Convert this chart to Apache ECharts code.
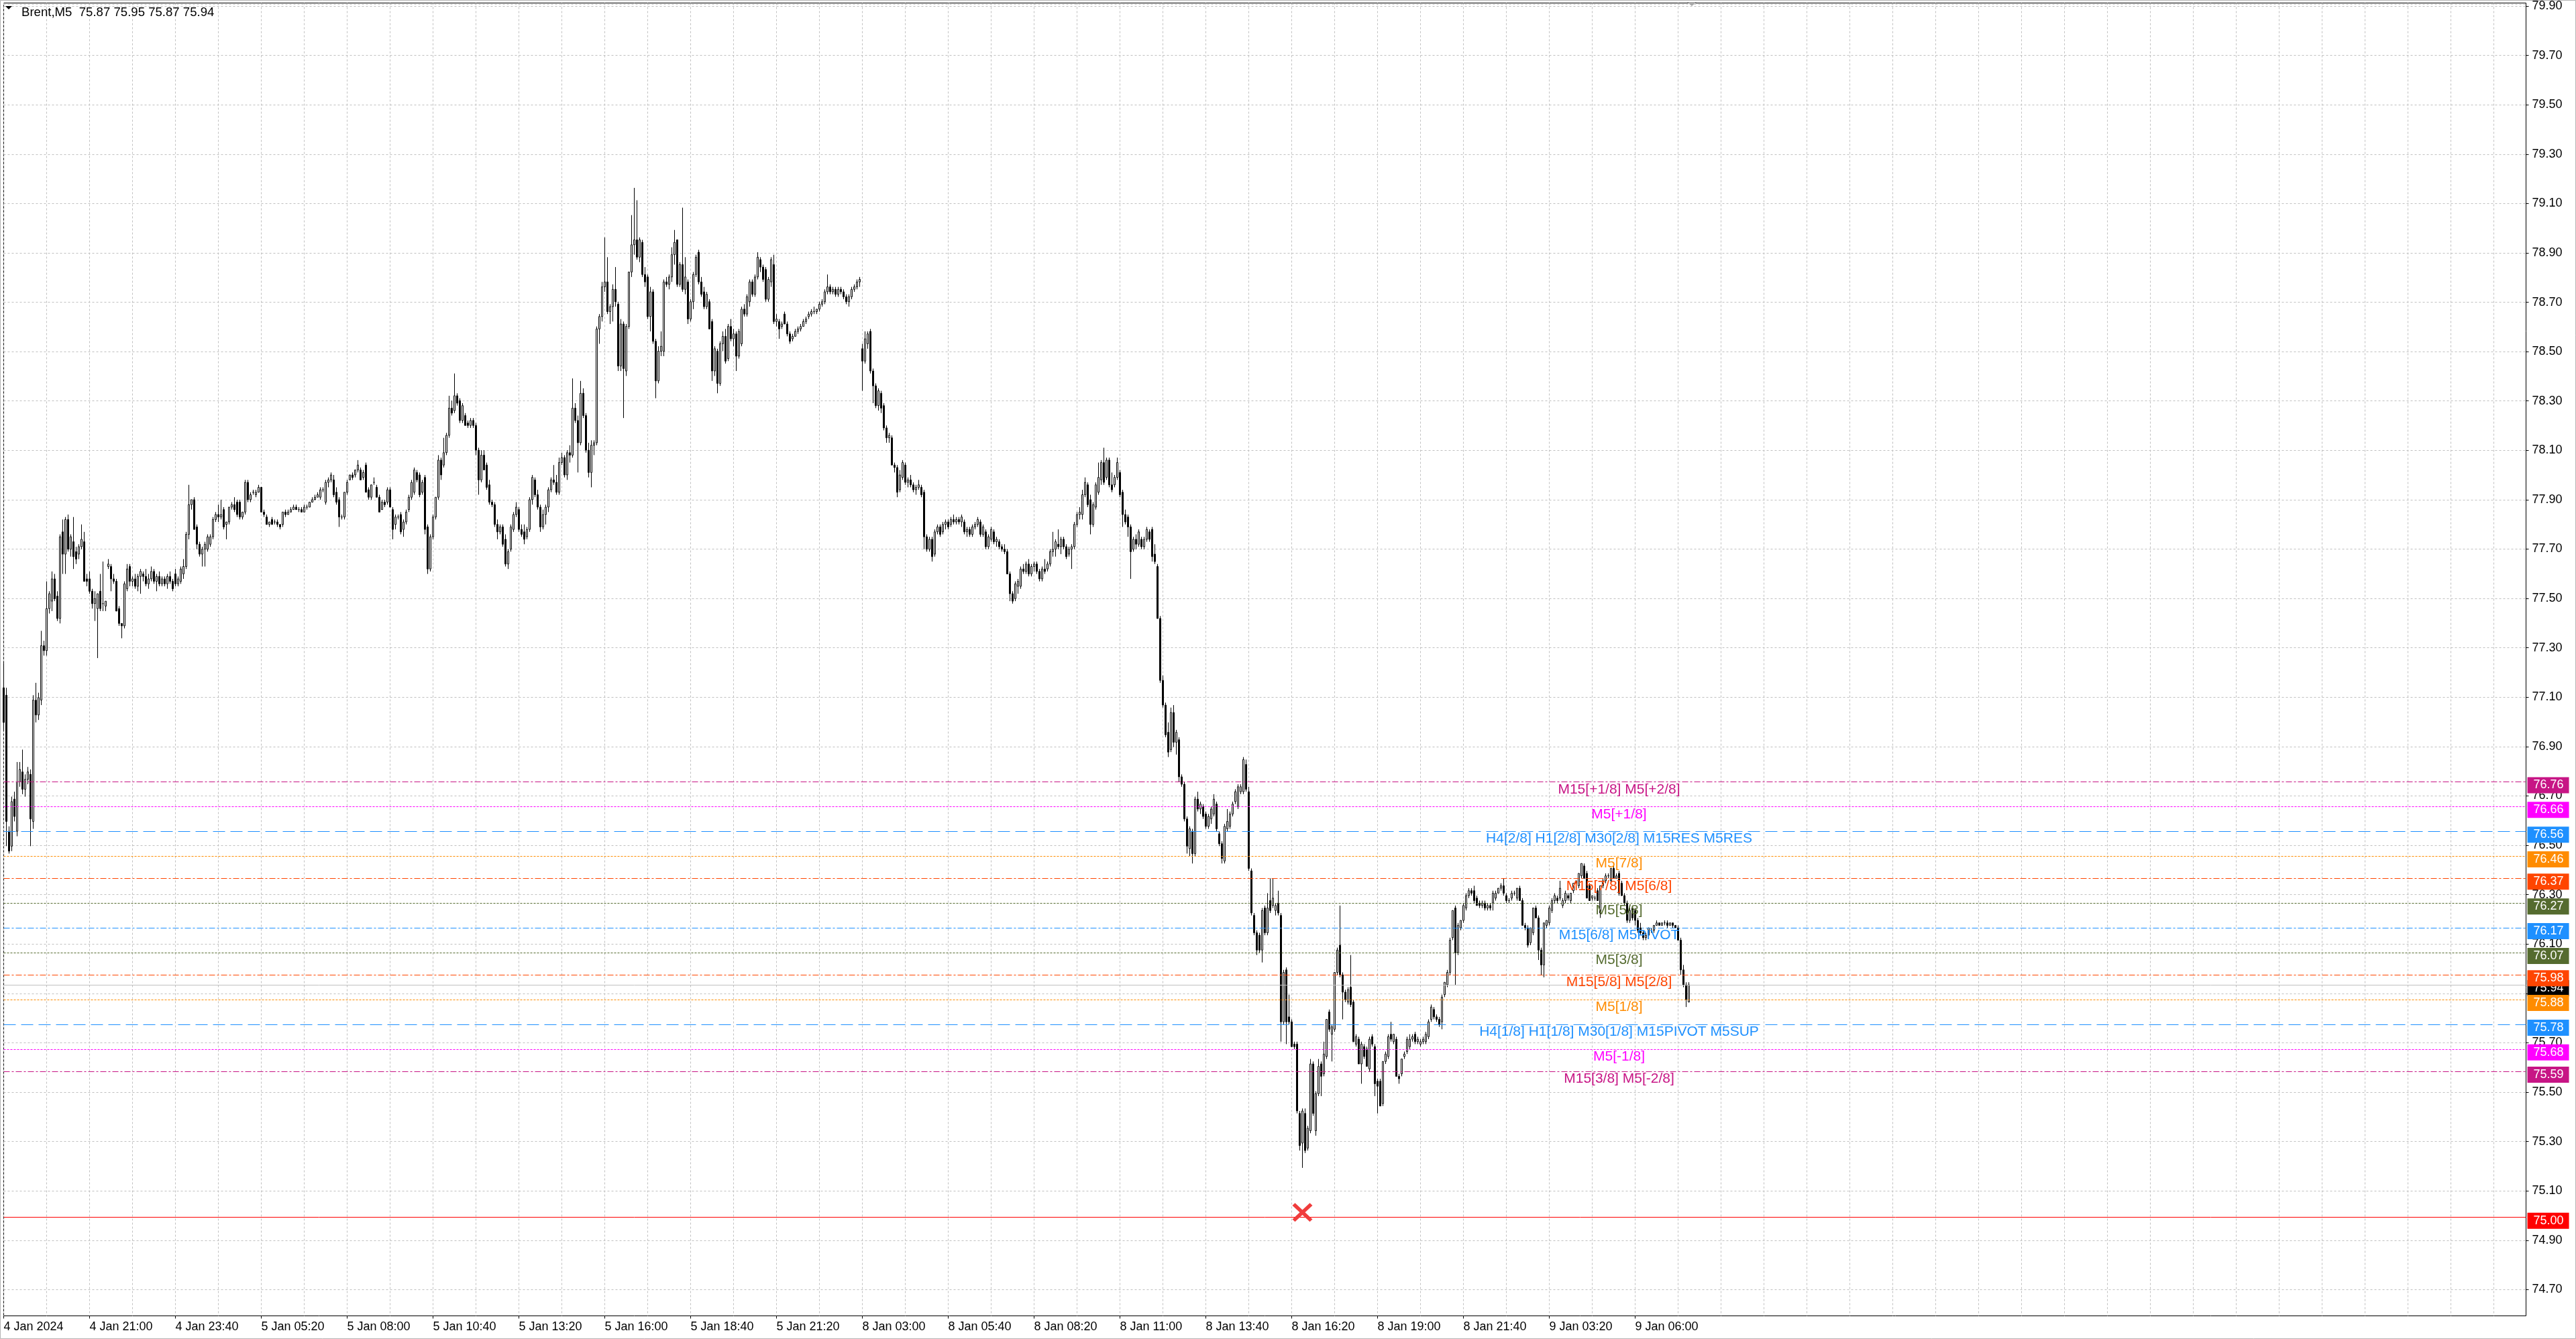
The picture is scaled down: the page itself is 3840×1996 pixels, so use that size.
<!DOCTYPE html>
<html><head><meta charset="utf-8">
<script src="https://cdn.jsdelivr.net/npm/echarts@6/dist/echarts.min.js"></script>
<style>html,body{margin:0;padding:0;background:#fff}#c{width:3840px;height:1996px}</style>
</head><body><div id="c"></div>
<script>
const symbolName = 'Brent,M5';
const timeLabels = ['4 Jan 2024','4 Jan 21:00','4 Jan 23:40','5 Jan 05:20','5 Jan 08:00','5 Jan 10:40','5 Jan 13:20','5 Jan 16:00','5 Jan 18:40','5 Jan 21:20','8 Jan 03:00','8 Jan 05:40','8 Jan 08:20','8 Jan 11:00','8 Jan 13:40','8 Jan 16:20','8 Jan 19:00','8 Jan 21:40','9 Jan 03:20','9 Jan 06:00'];
const labelStep = 32;
const gridStep = 16;
const totalSlots = 941;

// [open, high, low, close] per M5 bar
const week1Bars = [
[77.14,77.24,76.97,77.00],[77.11,77.14,76.50,76.60],[76.56,76.58,76.47,76.48],[76.50,76.70,76.48,76.68],[76.69,76.72,76.60,76.62],[76.56,76.84,76.54,76.76],[76.76,76.84,76.74,76.81],[76.80,76.89,76.71,76.73],
[76.73,76.79,76.70,76.77],[76.77,76.82,76.75,76.80],[76.79,76.81,76.50,76.61],[76.60,77.11,76.57,77.09],[77.09,77.16,77.00,77.03],[77.03,77.12,77.01,77.10],[77.09,77.37,77.07,77.31],[77.31,77.33,77.27,77.29],
[77.29,77.57,77.27,77.46],[77.46,77.53,77.44,77.52],[77.49,77.61,77.45,77.58],[77.58,77.60,77.49,77.50],[77.51,77.53,77.41,77.42],[77.42,77.76,77.40,77.75],[77.77,77.82,77.60,77.68],[77.68,77.83,77.60,77.82],
[77.82,77.84,77.69,77.70],[77.70,77.76,77.67,77.75],[77.73,77.83,77.62,77.67],[77.69,77.71,77.64,77.66],[77.68,77.72,77.66,77.71],[77.71,77.80,77.70,77.74],[77.73,77.77,77.57,77.57],[77.58,77.60,77.55,77.57],
[77.58,77.61,77.52,77.53],[77.53,77.54,77.46,77.48],[77.48,77.53,77.41,77.50],[77.46,77.52,77.26,77.52],[77.53,77.60,77.45,77.46],[77.48,77.65,77.45,77.48],[77.47,77.49,77.45,77.49],[77.63,77.66,77.62,77.64],
[77.63,77.64,77.53,77.58],[77.58,77.60,77.56,77.57],[77.57,77.58,77.45,77.45],[77.46,77.47,77.39,77.40],[77.40,77.40,77.34,77.39],[77.39,77.57,77.38,77.56],[77.54,77.64,77.53,77.62],[77.63,77.64,77.55,77.57],
[77.57,77.59,77.55,77.58],[77.58,77.60,77.54,77.55],[77.55,77.60,77.53,77.59],[77.59,77.62,77.52,77.61],[77.60,77.61,77.57,77.59],[77.59,77.62,77.55,77.56],[77.56,77.60,77.54,77.58],[77.58,77.63,77.57,77.61],
[77.61,77.62,77.56,77.57],[77.57,77.60,77.53,77.59],[77.59,77.61,77.55,77.56],[77.56,77.59,77.55,77.58],[77.58,77.59,77.55,77.56],[77.56,77.60,77.54,77.59],[77.59,77.61,77.56,77.57],[77.57,77.58,77.53,77.54],
[77.60,77.62,77.55,77.56],[77.56,77.59,77.55,77.58],[77.57,77.63,77.56,77.62],[77.60,77.66,77.58,77.63],[77.63,77.77,77.62,77.76],[77.76,77.96,77.74,77.88],[77.88,77.90,77.86,77.90],[77.90,77.91,77.78,77.78],
[77.79,77.80,77.70,77.72],[77.72,77.73,77.67,77.68],[77.68,77.71,77.63,77.70],[77.70,77.73,77.63,77.72],[77.70,77.76,77.69,77.75],[77.72,77.76,77.71,77.75],[77.75,77.83,77.74,77.82],[77.82,77.85,77.81,77.84],
[77.84,77.88,77.81,77.83],[77.83,77.90,77.82,77.84],[77.86,77.87,77.78,77.79],[77.80,77.81,77.74,77.81],[77.81,77.87,77.80,77.87],[77.87,77.89,77.86,77.88],[77.88,77.91,77.85,77.86],[77.89,77.90,77.83,77.84],
[77.89,77.90,77.82,77.83],[77.83,77.85,77.82,77.85],[77.85,77.98,77.84,77.97],[77.97,77.98,77.89,77.90],[77.90,77.93,77.89,77.92],[77.93,77.94,77.92,77.93],[77.92,77.94,77.91,77.93],[77.93,77.96,77.93,77.95],
[77.95,77.95,77.85,77.85],[77.85,77.86,77.83,77.84],[77.83,77.84,77.80,77.80],[77.80,77.81,77.79,77.81],[77.82,77.83,77.80,77.80],[77.81,77.82,77.80,77.81],[77.81,77.82,77.79,77.80],[77.80,77.80,77.78,77.79],
[77.80,77.85,77.79,77.85],[77.85,77.86,77.83,77.84],[77.84,77.86,77.84,77.85],[77.85,77.87,77.85,77.86],[77.86,77.88,77.86,77.87],[77.87,77.88,77.86,77.86],[77.86,77.87,77.85,77.86],[77.86,77.87,77.85,77.85],
[77.85,77.88,77.85,77.87],[77.87,77.88,77.86,77.87],[77.87,77.89,77.87,77.89],[77.89,77.91,77.89,77.90],[77.90,77.92,77.90,77.91],[77.91,77.93,77.91,77.92],[77.91,77.95,77.90,77.94],[77.94,77.95,77.93,77.94],
[77.89,77.98,77.88,77.97],[77.97,77.99,77.95,77.98],[77.98,78.01,77.97,78.00],[77.98,78.00,77.91,77.92],[77.93,77.95,77.88,77.89],[77.90,77.91,77.79,77.83],[77.83,77.84,77.82,77.83],[77.83,77.93,77.82,77.93],
[77.93,77.98,77.92,77.97],[77.98,78.00,77.98,78.00],[78.00,78.01,77.98,77.99],[78.00,78.02,77.99,78.02],[78.02,78.06,78.01,78.04],[78.02,78.03,77.98,77.98],[77.99,78.02,77.98,78.01],[78.04,78.05,77.93,77.93],
[77.94,77.95,77.90,77.91],[77.91,77.96,77.90,77.96],[77.97,77.99,77.96,77.97],[77.95,77.96,77.91,77.91],[77.91,77.92,77.85,77.85],[77.86,77.90,77.86,77.89],[77.89,77.90,77.87,77.88],[77.89,77.95,77.88,77.94],
[77.94,77.95,77.87,77.87],[77.86,77.87,77.74,77.78],[77.80,77.84,77.78,77.83],[77.83,77.84,77.82,77.83],[77.84,77.85,77.76,77.77],[77.78,77.82,77.75,77.81],[77.81,77.86,77.80,77.85],[77.86,77.92,77.85,77.91],
[77.91,77.98,77.90,77.97],[77.93,78.03,77.92,78.02],[78.01,78.02,77.97,77.98],[78.00,78.01,77.91,77.92],[77.93,77.98,77.92,77.97],[77.99,78.00,77.76,77.78],[77.79,77.80,77.60,77.62],[77.62,77.76,77.61,77.75],
[77.75,77.84,77.74,77.83],[77.83,77.91,77.82,77.91],[77.91,78.08,77.90,78.06],[78.06,78.07,77.98,78.00],[78.04,78.15,78.03,78.09],[78.09,78.17,78.08,78.16],[78.16,78.32,78.15,78.27],[78.27,78.30,78.24,78.25],
[78.26,78.41,78.25,78.32],[78.32,78.33,78.28,78.29],[78.30,78.31,78.21,78.22],[78.22,78.29,78.21,78.28],[78.24,78.25,78.20,78.20],[78.21,78.22,78.19,78.20],[78.20,78.23,78.19,78.22],[78.22,78.23,78.19,78.20],
[78.20,78.21,78.08,78.10],[78.10,78.11,77.92,77.98],[77.98,78.10,77.97,78.08],[78.08,78.10,78.02,78.02],[78.04,78.05,77.94,77.95],[77.96,77.98,77.88,77.89],[77.89,77.90,77.87,77.88],[77.88,77.89,77.79,77.80],
[77.80,77.82,77.74,77.77],[77.77,77.80,77.76,77.79],[77.79,77.80,77.71,77.72],[77.74,77.76,77.63,77.64],[77.64,77.70,77.62,77.69],[77.70,77.80,77.69,77.79],[77.78,77.85,77.77,77.84],[77.84,77.89,77.83,77.87],
[77.86,77.87,77.77,77.78],[77.78,77.80,77.75,77.76],[77.77,77.80,77.72,77.74],[77.75,77.79,77.74,77.78],[77.78,77.91,77.77,77.90],[77.90,78.00,77.88,77.99],[77.98,77.99,77.91,77.92],[77.92,77.94,77.86,77.87],
[77.87,77.88,77.77,77.79],[77.79,77.86,77.78,77.84],[77.84,77.88,77.80,77.87],[77.87,77.95,77.85,77.94],[77.94,77.99,77.93,77.98],[77.98,78.04,77.96,77.97],[77.97,78.00,77.92,77.93],[77.93,78.07,77.92,78.05],
[78.05,78.09,78.04,78.07],[78.07,78.08,77.99,78.00],[78.00,78.10,77.98,78.09],[78.09,78.12,78.05,78.08],[78.08,78.39,78.07,78.27],[78.27,78.29,78.21,78.22],[78.22,78.24,78.01,78.13],[78.13,78.38,78.12,78.33],
[78.33,78.35,78.23,78.24],[78.24,78.25,78.09,78.10],[78.10,78.13,77.99,78.01],[78.01,78.14,77.95,78.12],[78.12,78.14,78.08,78.13],[78.13,78.60,78.12,78.59],[78.59,78.65,78.53,78.64],[78.64,78.78,78.62,78.76],
[78.76,78.96,78.74,78.78],[78.78,78.88,78.65,78.66],[78.66,78.69,78.61,78.68],[78.68,78.77,78.62,78.75],[78.75,78.84,78.68,78.70],[78.69,78.70,78.42,78.44],[78.44,78.63,78.42,78.61],[78.61,78.62,78.23,78.43],
[78.42,78.61,78.40,78.60],[78.60,78.82,78.59,78.82],[78.82,79.05,78.80,78.93],[78.93,79.16,78.89,78.95],[78.95,79.11,78.87,78.88],[78.88,78.96,78.86,78.95],[78.94,78.95,78.80,78.81],[78.81,78.84,78.76,78.78],
[78.80,78.81,78.63,78.64],[78.64,78.76,78.58,78.74],[78.74,78.75,78.53,78.54],[78.54,78.55,78.31,78.38],[78.38,78.52,78.37,78.50],[78.50,78.58,78.48,78.52],[78.50,78.79,78.48,78.78],[78.78,78.80,78.76,78.77],
[78.77,78.81,78.75,78.80],[78.80,78.92,78.78,78.89],[78.89,78.99,78.85,78.94],[78.95,78.95,78.76,78.77],[78.77,78.86,78.76,78.85],[78.85,79.08,78.74,78.75],[78.75,78.88,78.73,78.80],[78.78,78.79,78.61,78.63],
[78.63,78.71,78.62,78.70],[78.70,78.82,78.67,78.81],[78.81,78.89,78.80,78.88],[78.90,78.91,78.77,78.78],[78.78,78.80,78.72,78.73],[78.74,78.76,78.67,78.68],[78.68,78.74,78.67,78.73],[78.70,78.71,78.59,78.59],
[78.62,78.63,78.38,78.42],[78.42,78.52,78.40,78.51],[78.50,78.51,78.33,78.37],[78.37,78.54,78.36,78.53],[78.53,78.58,78.50,78.56],[78.56,78.59,78.45,78.46],[78.47,78.61,78.46,78.60],[78.60,78.63,78.54,78.55],
[78.55,78.59,78.52,78.57],[78.57,78.58,78.42,78.48],[78.48,78.59,78.47,78.58],[78.53,78.68,78.52,78.67],[78.67,78.69,78.64,78.65],[78.65,78.73,78.64,78.72],[78.70,78.79,78.68,78.78],[78.78,78.79,78.72,78.73],
[78.73,78.81,78.72,78.80],[78.80,78.90,78.79,78.88],[78.87,78.88,78.82,78.84],[78.84,78.85,78.78,78.79],[78.83,78.84,78.70,78.71],[78.71,78.80,78.70,78.79],[78.78,78.88,78.76,78.87],[78.85,78.89,78.61,78.62],
[78.62,78.65,78.60,78.63],[78.62,78.63,78.55,78.59],[78.60,78.62,78.59,78.61],[78.65,78.66,78.61,78.61],[78.61,78.62,78.56,78.57],[78.57,78.58,78.53,78.54],[78.55,78.57,78.54,78.56],[78.56,78.59,78.56,78.58],
[78.58,78.60,78.57,78.59],[78.59,78.61,78.58,78.60],[78.60,78.63,78.60,78.62],[78.62,78.64,78.61,78.63],[78.64,78.66,78.63,78.65],[78.65,78.67,78.64,78.66],[78.66,78.68,78.65,78.66],[78.66,78.67,78.65,78.67],
[78.67,78.70,78.66,78.69],[78.69,78.71,78.68,78.70],[78.70,78.75,78.69,78.74],[78.74,78.81,78.73,78.76],[78.76,78.77,78.73,78.74],[78.74,78.76,78.73,78.75],[78.75,78.76,78.72,78.73],[78.73,78.76,78.72,78.75],
[78.75,78.76,78.73,78.74],[78.74,78.75,78.71,78.72],[78.72,78.73,78.69,78.70],[78.70,78.73,78.68,78.72],[78.72,78.76,78.71,78.75],[78.75,78.77,78.74,78.76],[78.76,78.79,78.75,78.78],[78.78,78.80,78.76,78.79]
];

const week2Bars = [
[78.51,78.53,78.34,78.46],[78.46,78.58,78.45,78.55],[78.53,78.58,78.51,78.57],[78.58,78.59,78.41,78.42],[78.42,78.43,78.29,78.36],[78.36,78.37,78.27,78.28],[78.28,78.35,78.26,78.34],[78.33,78.34,78.25,78.27],
[78.28,78.29,78.18,78.19],[78.19,78.20,78.13,78.15],[78.15,78.17,78.13,78.16],[78.15,78.16,78.04,78.04],[78.04,78.05,78.01,78.03],[78.03,78.04,77.91,77.93],[77.94,78.02,77.93,78.00],[77.99,78.06,77.98,78.05],
[78.04,78.05,77.96,77.97],[77.97,77.99,77.95,77.98],[77.98,78.00,77.95,77.96],[77.96,77.97,77.93,77.94],[77.94,77.96,77.92,77.95],[77.95,77.98,77.94,77.96],[77.95,77.96,77.91,77.92],[77.93,77.94,77.70,77.75],
[77.75,77.76,77.69,77.70],[77.70,77.75,77.69,77.74],[77.74,77.75,77.65,77.67],[77.68,77.78,77.67,77.77],[77.77,77.80,77.76,77.79],[77.79,77.80,77.75,77.76],[77.77,77.81,77.76,77.80],[77.80,77.82,77.78,77.81],
[77.81,77.82,77.78,77.79],[77.80,77.83,77.79,77.82],[77.82,77.84,77.80,77.81],[77.81,77.83,77.80,77.82],[77.82,77.83,77.80,77.81],[77.81,77.84,77.79,77.83],[77.81,77.82,77.76,77.77],[77.77,77.79,77.75,77.78],
[77.78,77.79,77.75,77.76],[77.76,77.80,77.75,77.79],[77.79,77.81,77.78,77.80],[77.80,77.83,77.79,77.82],[77.81,77.82,77.75,77.76],[77.76,77.80,77.75,77.79],[77.77,77.78,77.70,77.71],[77.71,77.76,77.70,77.75],
[77.74,77.79,77.73,77.78],[77.77,77.78,77.72,77.73],[77.73,77.75,77.71,77.74],[77.73,77.74,77.70,77.71],[77.71,77.72,77.69,77.70],[77.70,77.72,77.68,77.69],[77.69,77.70,77.60,77.60],[77.60,77.61,77.49,77.52],
[77.52,77.53,77.48,77.49],[77.50,77.57,77.49,77.56],[77.55,77.58,77.52,77.57],[77.55,77.63,77.54,77.62],[77.62,77.64,77.60,77.61],[77.61,77.65,77.60,77.64],[77.64,77.66,77.59,77.60],[77.60,77.64,77.59,77.63],
[77.63,77.65,77.61,77.64],[77.64,77.65,77.60,77.61],[77.61,77.62,77.57,77.58],[77.58,77.63,77.57,77.62],[77.62,77.66,77.60,77.61],[77.62,77.65,77.61,77.64],[77.64,77.70,77.63,77.69],[77.69,77.77,77.67,77.70],
[77.70,77.74,77.67,77.73],[77.72,77.78,77.70,77.71],[77.71,77.75,77.68,77.74],[77.74,77.75,77.70,77.71],[77.71,77.72,77.66,77.67],[77.68,77.71,77.67,77.70],[77.70,77.72,77.62,77.71],[77.71,77.81,77.70,77.80],
[77.80,77.85,77.79,77.84],[77.84,77.87,77.82,77.85],[77.84,77.94,77.82,77.92],[77.92,77.99,77.91,77.97],[77.96,77.97,77.87,77.88],[77.90,77.92,77.76,77.80],[77.80,77.89,77.79,77.88],[77.87,77.97,77.86,77.96],
[77.93,78.05,77.92,77.99],[77.98,78.06,77.96,78.05],[78.05,78.11,77.96,77.97],[77.99,78.07,77.98,78.06],[78.06,78.07,77.95,77.96],[77.96,78.01,77.93,77.94],[77.96,78.00,77.95,77.99],[77.99,78.07,77.98,78.05],
[78.01,78.02,77.91,77.92],[77.93,77.94,77.79,77.84],[77.84,77.86,77.80,77.81],[77.83,77.84,77.75,77.79],[77.79,77.80,77.58,77.69],[77.70,77.75,77.69,77.74],[77.74,77.76,77.70,77.72],[77.72,77.78,77.71,77.77],
[77.74,77.75,77.70,77.71],[77.71,77.75,77.70,77.74],[77.74,77.79,77.73,77.78],[77.77,77.78,77.73,77.74],[77.78,77.79,77.65,77.67],[77.68,77.72,77.64,77.65],[77.63,77.64,77.42,77.42],[77.42,77.43,77.16,77.17],
[77.17,77.19,77.06,77.07],[77.07,77.08,76.94,76.95],[76.96,77.00,76.86,76.88],[76.89,77.06,76.88,77.04],[77.04,77.07,76.90,76.92],[76.92,76.97,76.87,76.96],[76.93,76.94,76.76,76.78],[76.78,76.79,76.74,76.75],
[76.75,76.76,76.60,76.61],[76.61,76.62,76.47,76.50],[76.49,76.58,76.46,76.57],[76.56,76.57,76.43,76.47],[76.47,76.70,76.46,76.69],[76.69,76.72,76.64,76.65],[76.65,76.68,76.63,76.67],[76.66,76.67,76.61,76.62],
[76.63,76.64,76.57,76.58],[76.58,76.63,76.57,76.62],[76.61,76.66,76.59,76.65],[76.63,76.71,76.62,76.69],[76.67,76.68,76.56,76.57],[76.55,76.56,76.50,76.51],[76.51,76.52,76.43,76.45],[76.44,76.59,76.43,76.58],
[76.57,76.65,76.56,76.60],[76.58,76.64,76.57,76.63],[76.63,76.68,76.62,76.67],[76.68,76.73,76.67,76.72],[76.66,76.75,76.65,76.74],[76.72,76.75,76.71,76.74],[76.72,76.86,76.71,76.85],[76.83,76.85,76.72,76.73],
[76.72,76.74,76.40,76.41],[76.40,76.41,76.22,76.23],[76.22,76.23,76.14,76.15],[76.15,76.16,76.06,76.08],[76.14,76.15,76.07,76.08],[76.08,76.25,76.03,76.24],[76.25,76.26,76.14,76.15],[76.15,76.31,76.14,76.25],
[76.28,76.37,76.23,76.24],[76.26,76.37,76.25,76.29],[76.24,76.27,76.22,76.26],[76.27,76.32,76.22,76.23],[76.22,76.23,75.71,75.79],[75.79,76.00,75.78,75.99],[76.00,76.01,75.70,75.79],[75.81,75.90,75.78,75.79],
[75.79,75.80,75.69,75.69],[75.70,75.71,75.68,75.69],[75.70,75.71,75.42,75.43],[75.42,75.43,75.27,75.29],[75.30,75.44,75.20,75.43],[75.42,75.44,75.26,75.27],[75.28,75.37,75.27,75.36],[75.35,75.64,75.34,75.62],
[75.62,75.63,75.41,75.42],[75.35,75.51,75.33,75.50],[75.50,75.64,75.49,75.61],[75.62,75.63,75.49,75.57],[75.58,75.71,75.57,75.66],[75.65,75.80,75.64,75.80],[75.83,75.84,75.75,75.76],[75.74,75.78,75.63,75.77],
[75.76,75.99,75.75,75.99],[75.99,76.09,75.98,76.08],[76.10,76.26,75.97,75.98],[75.98,75.99,75.80,75.91],[75.91,75.92,75.87,75.88],[75.87,75.93,75.86,75.92],[75.93,76.06,75.85,75.86],[75.87,75.88,75.71,75.71],
[75.70,75.74,75.69,75.73],[75.72,75.73,75.62,75.62],[75.62,75.71,75.54,75.70],[75.69,75.70,75.64,75.65],[75.68,75.69,75.61,75.61],[75.60,75.73,75.59,75.72],[75.73,75.74,75.69,75.70],[75.69,75.70,75.49,75.54],
[75.55,75.56,75.42,75.53],[75.55,75.56,75.45,75.45],[75.46,75.63,75.45,75.63],[75.63,75.67,75.62,75.66],[75.65,75.74,75.64,75.73],[75.74,75.79,75.71,75.72],[75.71,75.74,75.70,75.74],[75.72,75.73,75.57,75.57],
[75.57,75.58,75.54,75.56],[75.58,75.64,75.57,75.64],[75.65,75.67,75.64,75.66],[75.67,75.73,75.66,75.72],[75.69,75.74,75.68,75.72],[75.72,75.74,75.71,75.73],[75.74,75.75,75.70,75.71],[75.71,75.73,75.70,75.72],
[75.70,75.72,75.69,75.71],[75.71,75.73,75.70,75.72],[75.71,75.75,75.70,75.74],[75.73,75.80,75.72,75.79],[75.80,75.86,75.79,75.85],[75.84,75.85,75.80,75.81],[75.81,75.82,75.79,75.80],[75.80,75.81,75.77,75.78],
[75.79,75.90,75.76,75.89],[75.90,75.95,75.89,75.95],[75.94,76.00,75.93,75.99],[75.99,76.13,75.98,76.12],[76.13,76.24,76.12,76.24],[76.25,76.26,75.94,76.07],[76.07,76.19,76.06,76.18],[76.17,76.20,76.16,76.20],
[76.20,76.27,76.19,76.26],[76.25,76.31,76.24,76.30],[76.30,76.33,76.29,76.32],[76.32,76.33,76.30,76.31],[76.32,76.34,76.27,76.28],[76.29,76.30,76.26,76.26],[76.27,76.28,76.25,76.26],[76.26,76.28,76.25,76.27],
[76.27,76.28,76.24,76.25],[76.25,76.27,76.24,76.26],[76.26,76.27,76.24,76.25],[76.27,76.32,76.24,76.31],[76.29,76.32,76.28,76.31],[76.31,76.33,76.31,76.33],[76.33,76.35,76.32,76.34],[76.34,76.37,76.30,76.31],
[76.30,76.31,76.27,76.28],[76.28,76.29,76.27,76.28],[76.29,76.32,76.28,76.31],[76.31,76.32,76.30,76.31],[76.29,76.33,76.28,76.33],[76.33,76.34,76.28,76.28],[76.28,76.29,76.18,76.18],[76.18,76.19,76.16,76.17],
[76.17,76.18,76.09,76.10],[76.11,76.17,76.10,76.17],[76.15,76.25,76.14,76.25],[76.25,76.26,76.21,76.21],[76.21,76.22,76.04,76.08],[76.08,76.09,75.98,76.02],[76.02,76.19,75.97,76.19],[76.18,76.20,76.17,76.20],
[76.19,76.26,76.18,76.25],[76.24,76.29,76.23,76.28],[76.28,76.31,76.27,76.30],[76.29,76.30,76.27,76.28],[76.29,76.36,76.28,76.33],[76.26,76.29,76.25,76.28],[76.28,76.32,76.27,76.31],[76.30,76.31,76.28,76.29],
[76.28,76.31,76.27,76.31],[76.32,76.35,76.31,76.35],[76.35,76.36,76.34,76.36],[76.34,76.39,76.33,76.39],[76.38,76.43,76.37,76.43],[76.42,76.43,76.37,76.37],[76.39,76.40,76.29,76.29],[76.34,76.35,76.28,76.28],
[76.29,76.30,76.28,76.30],[76.29,76.30,76.28,76.29],[76.32,76.33,76.28,76.28],[76.23,76.34,76.21,76.34],[76.34,76.37,76.33,76.36],[76.36,76.39,76.35,76.38],[76.38,76.39,76.37,76.38],[76.36,76.41,76.35,76.41],
[76.41,76.42,76.37,76.37],[76.37,76.39,76.37,76.38],[76.39,76.40,76.30,76.31],[76.35,76.36,76.30,76.30],[76.30,76.31,76.26,76.27],[76.27,76.28,76.19,76.20],[76.20,76.25,76.19,76.24],[76.25,76.26,76.20,76.21],
[76.24,76.25,76.18,76.20],[76.20,76.21,76.15,76.16],[76.17,76.19,76.14,76.15],[76.15,76.16,76.12,76.13],[76.13,76.15,76.12,76.14],[76.14,76.17,76.13,76.17],[76.16,76.17,76.15,76.16],[76.16,76.18,76.15,76.18],
[76.18,76.20,76.18,76.19],[76.19,76.19,76.18,76.18],[76.18,76.19,76.18,76.19],[76.19,76.20,76.18,76.19],[76.19,76.20,76.17,76.18],[76.18,76.19,76.18,76.19],[76.19,76.19,76.17,76.18],[76.18,76.18,76.17,76.17],
[76.17,76.18,76.12,76.12],[76.12,76.13,75.98,76.00],[76.00,76.02,75.93,75.94],[75.94,75.95,75.85,75.88],[75.87,75.95,75.87,75.94]
];

const levelPrices = [76.76, 76.66, 76.56, 76.46, 76.37, 76.27, 76.17, 76.07, 75.98, 75.88, 75.78, 75.68, 75.59];
const levelTexts = ['M15[+1/8] M5[+2/8]','M5[+1/8]','H4[2/8] H1[2/8] M30[2/8] M15RES M5RES','M5[7/8]','M15[7/8] M5[6/8]','M5[5/8]','M15[6/8] M5PIVOT','M5[3/8]','M15[5/8] M5[2/8]','M5[1/8]','H4[1/8] H1[1/8] M30[1/8] M15PIVOT M5SUP','M5[-1/8]','M15[3/8] M5[-2/8]'];
const levelColors = ['#C71585','#FF00FF','#1E90FF','#FF8C00','#FF4500','#556B2F','#1E90FF','#556B2F','#FF4500','#FF8C00','#1E90FF','#FF00FF','#C71585'];
const levelStyles = ['dashdot','dot','dash','dot','dashdot','dot','dashdot','dot','dashdot','dot','dash','dot','dashdot'];
const levelLabelBar = 602;
const stopLevel = 75.00;
const markerBar = 484;
const markerPrice = 75.02;

// ---- layout constants ----
const W = 3840, H = 1996;
const plotLeft = 5.5, plotRight = 3765.5, plotTop = 4.5, plotBottom = 1961.5;
const priceMin = 74.602, priceMax = 79.907;
const tickOffset = 0.1;           // labels sit on odd tenths
const ppu = (plotBottom - plotTop) / (priceMax - priceMin);
const labelAxisMin = 74.6;        // = price 74.50 + offset
const labelGridBottom = H - (plotBottom + (priceMin - (labelAxisMin - tickOffset)) * ppu);
const FONT = '"Liberation Sans", Arial, sans-serif';
const DASH = { dot: [3, 2], dashdot: [9, 3, 3, 3], dash: [18, 8] };

const allBars = week1Bars.concat(week2Bars);
const slots = Array.from({length: totalSlots}, (_, i) => String(i));
const candleData = allBars.map(b => [b[0], b[3], b[2], b[1]]);
const lastBar = allBars[allBars.length - 1];
const currentPrice = lastBar[3];
const header = symbolName + '  ' + lastBar.map(v => v.toFixed(2)).join(' ');

const isLabel = (i) => i % labelStep === 0 && (i / labelStep) < timeLabels.length;
const isGrid = (i) => i % gridStep === 0;

// horizontal lines (current price, levels, stop)
const lineItems = [{ p: currentPrice, color: '#c0c0c0', type: 'solid', box: '#000000' }]
  .concat(levelPrices.map((p, i) => ({ p, color: levelColors[i], type: DASH[levelStyles[i]], box: levelColors[i] })))
  .concat([{ p: stopLevel, color: '#FF0000', type: 'solid', box: '#FF0000' }]);

const markLines = lineItems.map(it => ({ yAxis: it.p, lineStyle: { color: it.color, type: it.type, width: 1 } }));
const priceBoxes = lineItems.map(it => ({ value: [totalSlots - 1, it.p],
  label: { show: true, position: 'right', distance: 2, offset: [0, 5], formatter: it.p.toFixed(2),
    backgroundColor: it.box, color: '#ffffff', fontSize: 18, fontFamily: FONT, padding: [3, 8, 3, 9], lineHeight: 18, opacity: 1 } }));

const chart = echarts.init(document.getElementById('c'), null, { renderer: 'canvas', width: W, height: H });
chart.setOption({
  animation: false,
  backgroundColor: '#ffffff',
  textStyle: { fontFamily: FONT },
  title: { text: header, left: 32, top: 9, padding: 0,
    textStyle: { fontSize: 18.6, fontWeight: 'normal', color: '#000', fontFamily: FONT } },
  grid: [
    { left: plotLeft, right: W - plotRight, top: plotTop, bottom: H - plotBottom, show: true, borderColor: '#000', borderWidth: 1, backgroundColor: 'transparent' },
    { left: plotLeft, right: W - plotRight, top: plotTop, bottom: labelGridBottom, show: false }
  ],
  xAxis: [
    { type: 'category', gridIndex: 0, data: slots, boundaryGap: false,
      axisLine: { show: false },
      axisTick: { show: true, interval: isLabel, length: 4, lineStyle: { color: '#000' } },
      axisLabel: { show: true, interval: isLabel, hideOverlap: false, align: 'left', margin: 8, color: '#000', fontSize: 18, fontFamily: FONT,
        formatter: (v, idx) => timeLabels[idx / labelStep] || '' },
      splitLine: { show: true, interval: isGrid, lineStyle: { color: '#c0c0c0', type: [3, 3], width: 1 } } },
    { type: 'category', gridIndex: 1, data: slots, boundaryGap: false, show: false }
  ],
  yAxis: [
    { type: 'value', gridIndex: 0, min: priceMin, max: priceMax, show: false, splitLine: { show: false } },
    { type: 'value', gridIndex: 1, position: 'right', min: labelAxisMin, max: priceMax + tickOffset, interval: 0.2,
      axisLine: { show: false },
      axisTick: { show: true, length: 4, lineStyle: { color: '#000' } },
      axisLabel: { margin: 9, color: '#000', fontSize: 18, fontFamily: FONT, showMinLabel: false, showMaxLabel: false,
        formatter: v => (v - tickOffset).toFixed(2) },
      splitLine: { show: true, lineStyle: { color: '#c0c0c0', type: [3, 3], width: 1 } } }
  ],
  graphic: [
    { type: 'rect', silent: true, z: 100, shape: { x: 0.5, y: 0.5, width: W - 1, height: H - 1 }, style: { fill: 'none', stroke: '#b4b4b4', lineWidth: 1 } },
    { type: 'polygon', silent: true, z: 100, shape: { points: [[8, 9], [18, 9], [13, 14]] }, style: { fill: '#000' } },
    { type: 'polygon', silent: true, z: 100, shape: { points: [[2515, 3], [2529, 3], [2522, 9]] }, style: { fill: '#a8a8a8' } }
  ],
  series: [
    { type: 'candlestick', name: symbolName, xAxisIndex: 0, yAxisIndex: 0, data: candleData, large: false,
      barWidth: 2, z: 3,
      itemStyle: { color: '#ffffff', color0: '#000000', borderColor: '#000000', borderColor0: '#000000', borderColorDoji: '#000000', borderWidth: 1 } },
    { type: 'line', xAxisIndex: 0, yAxisIndex: 0, data: [], clip: false, silent: true, z: 4,
      markLine: { symbol: ['none', 'none'], silent: true, animation: false, label: { show: false }, data: markLines } },
    { type: 'scatter', xAxisIndex: 0, yAxisIndex: 0, symbolSize: 0, silent: true, z: 7, clip: false,
      itemStyle: { opacity: 1 }, data: priceBoxes },
    { type: 'scatter', xAxisIndex: 0, yAxisIndex: 0, symbolSize: 0, silent: true, z: 5, clip: false,
      itemStyle: { opacity: 1 },
      data: levelPrices.map((p, i) => ({ value: [levelLabelBar, p],
        label: { show: true, position: 'bottom', distance: 1, formatter: levelTexts[i], color: levelColors[i], fontSize: 21, fontFamily: FONT, opacity: 1 } })) },
    { type: 'scatter', xAxisIndex: 0, yAxisIndex: 0, silent: true, z: 6,
      symbol: 'path://M0,4 L4,0 L15,11 L26,0 L30,4 L19,15 L30,26 L26,30 L15,19 L4,30 L0,26 L11,15 Z',
      symbolSize: [30, 28], itemStyle: { color: '#f03c3c', opacity: 1 },
      data: [[markerBar, markerPrice]] }
  ]
});
</script>
</body></html>
